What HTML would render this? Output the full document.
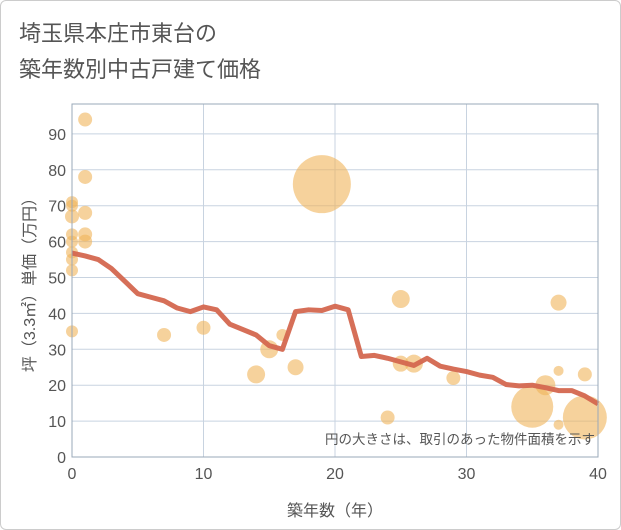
<!DOCTYPE html>
<html><head><meta charset="utf-8"><style>
body{margin:0;background:#fff;}
#wrap{width:621px;height:530px;position:relative;box-sizing:border-box;border:1px solid #ccc;border-radius:6px;background:#fff;overflow:hidden;}
text{font-family:"Liberation Sans","Noto Sans CJK JP",sans-serif;}
</style></head><body>
<div id="wrap">
<svg id="chart" width="621" height="530">
<text x="18" y="40" font-size="22" fill="#555">埼玉県本庄市東台の</text>
<text x="18" y="76" font-size="22" fill="#555">築年数別中古戸建て価格</text>
<g id="grid"></g>
<g id="bubbles"></g>
<g id="line"></g>
<g id="axes"></g>
<text x="594" y="443" font-size="13.5" fill="#555" text-anchor="end">円の大きさは、取引のあった物件面積を示す</text>
<text x="334" y="515" font-size="16" fill="#555" text-anchor="middle">築年数（年）</text>
<text transform="translate(34,280) rotate(-90)" font-size="16" fill="#555" text-anchor="middle">坪（3.3㎡）単価（万円）</text>
</svg>
</div>
<script>
const xTicks=[0,10,20,30,40];
const yTicks=[0,10,20,30,40,50,60,70,80,90];
const lineYears=[0,1,2,3,4,5,6,7,8,9,10,11,12,13,14,15,16,17,18,19,20,21,22,23,24,25,26,27,28,29,30,31,32,33,34,35,36,37,38,39,40];
const lineValues=[56.8,56,55,52.5,49,45.5,44.5,43.5,41.5,40.5,41.8,41,37,35.5,34,31,30,40.5,41,40.8,42,41,28,28.3,27.5,26.5,25.5,27.5,25.3,24.5,23.8,22.8,22.2,20.2,19.8,20,19.3,18.5,18.5,17,14.8];
const bubbleX=[1,1,1,0,0,0,0,0,1,1,0,0,0,0,7,10,19,14,15,16,17,24,25,25,26,29,37,37,37,36,35,39,39];
const bubbleY=[94,78,68,71,70,67,62,60,62,60,57,55,52,35,34,36,76,23,30,34,25,11,44,26,26,22,43,24,9,20,14,23,11];
const bubbleSize=[7,7,7,6,6,7,6,6,7,7,6,6,6,6,7,7,29,9,9,6,8,7,9,8,9,7,8,5,5,10,21,7,22];
const L=71,R=597,T=103,B=456;
const xs=v=>L+(R-L)*v/40;
const ys=v=>B-v*3.59;
const NS='http://www.w3.org/2000/svg';
function mk(tag,parent){const e=document.createElementNS(NS,tag);document.getElementById(parent).appendChild(e);return e;}
xTicks.forEach(t=>{
 const l=mk('line','grid');
 
 
 l.setAttribute('x1',xs(t));l.setAttribute('x2',xs(t));l.setAttribute('y1',T);l.setAttribute('y2',B);l.setAttribute('stroke','#c8d3e0');
 const tx=mk('text','axes');
 
 
 tx.setAttribute('x',xs(t));tx.setAttribute('y',B+22);tx.setAttribute('font-size','16');tx.setAttribute('fill','#555');tx.setAttribute('text-anchor','middle');tx.textContent=t;
});
yTicks.forEach(t=>{
 const l=mk('line','grid');
 
 
 l.setAttribute('x1',L);l.setAttribute('x2',R);l.setAttribute('y1',ys(t));l.setAttribute('y2',ys(t));l.setAttribute('stroke','#c8d3e0');
 const tx=mk('text','axes');
 
 
 tx.setAttribute('x',L-6);tx.setAttribute('y',ys(t)+6);tx.setAttribute('font-size','16');tx.setAttribute('fill','#555');tx.setAttribute('text-anchor','end');tx.textContent=t;
});
const fr=mk('rect','axes');


fr.setAttribute('x',L);fr.setAttribute('y',T);fr.setAttribute('width',R-L);fr.setAttribute('height',B-T);fr.setAttribute('fill','none');fr.setAttribute('stroke','#9aa8b8');
bubbleX.forEach((x,i)=>{
 const c=mk('circle','bubbles');
 
 
 c.setAttribute('cx',xs(x));c.setAttribute('cy',ys(bubbleY[i]));c.setAttribute('r',bubbleSize[i]);c.setAttribute('fill','rgba(240,180,90,0.6)');
});
const p=mk('polyline','line');


p.setAttribute('points',lineYears.map((y,i)=>xs(y)+','+ys(lineValues[i])).join(' '));
p.setAttribute('fill','none');p.setAttribute('stroke','#d4674f');p.setAttribute('stroke-width','5');p.setAttribute('stroke-linejoin','round');p.setAttribute('opacity','0.95');
</script>
</body></html>
